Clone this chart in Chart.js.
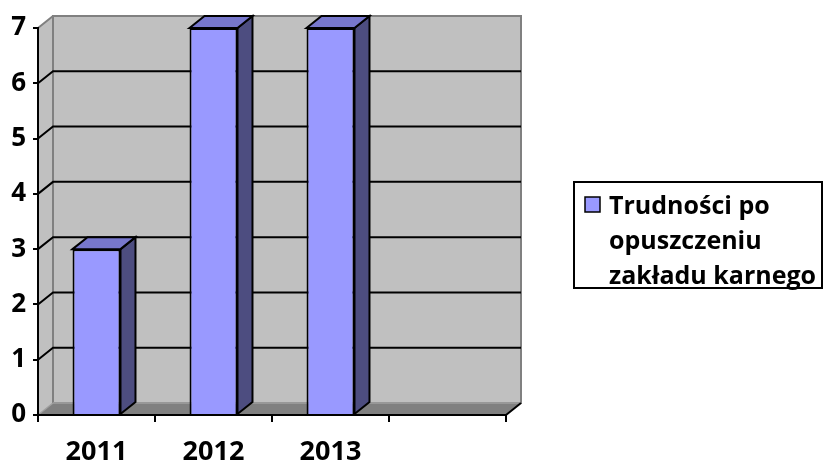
<!DOCTYPE html>
<html lang="pl">
<head>
    <meta charset="UTF-8">
    <title>Trudności po opuszczeniu zakładu karnego</title>
    <script src="https://cdn.jsdelivr.net/npm/chart.js"></script>
    <style>
        body {
            margin: 0;
            background: #fff;
        }
        #chartBox {
            width: 825px;
            height: 462px;
        }
    </style>
</head>
<body>
    <div id="chartBox">
        <canvas id="chartCanvas" width="825" height="462"></canvas>
    </div>

    <script>
        // dane wykresu
        const categories = ['2011', '2012', '2013', ''];
        const values = [3, 7, 7, null];
        const seriesLabel = ['Trudności po', 'opuszczeniu', 'zakładu karnego'];
        const yMin = 0;
        const yMax = 7;
        const yStep = 1;

        const FONT = '"Open Sans", "DejaVu Sans", sans-serif';
        const DX = 15, DY = 12; // głębokość 3D

        // ściany, podłoga i linie siatki "z tyłu"
        const wallsPlugin = {
            id: 'walls',
            beforeDraw(chart) {
                const ctx = chart.ctx;
                const { left, right, top, bottom } = chart.chartArea;
                const y = chart.scales.y;
                ctx.save();
                ctx.lineJoin = 'miter';

                // ściana boczna
                ctx.fillStyle = '#c0c0c0';
                ctx.beginPath();
                ctx.moveTo(left, top);
                ctx.lineTo(left + DX, top - DY);
                ctx.lineTo(left + DX, bottom - DY);
                ctx.lineTo(left, bottom);
                ctx.closePath();
                ctx.fill();

                // tylna ściana
                ctx.fillRect(left + DX, top - DY, right - left, bottom - top);
                ctx.strokeStyle = '#808080';
                ctx.lineWidth = 2;
                ctx.strokeRect(left + DX, top - DY, right - left, bottom - top);
                ctx.beginPath();
                ctx.moveTo(left, top);
                ctx.lineTo(left + DX, top - DY);
                ctx.stroke();

                // podłoga
                ctx.fillStyle = '#808080';
                ctx.beginPath();
                ctx.moveTo(left, bottom);
                ctx.lineTo(left + DX, bottom - DY);
                ctx.lineTo(right + DX, bottom - DY);
                ctx.lineTo(right, bottom);
                ctx.closePath();
                ctx.fill();
                ctx.strokeStyle = '#a0a0a0';
                ctx.lineWidth = 1.5;
                ctx.beginPath();
                ctx.moveTo(left + DX, bottom - DY);
                ctx.lineTo(right + DX, bottom - DY);
                ctx.stroke();
                ctx.beginPath();
                ctx.moveTo(left, bottom);
                ctx.lineTo(left + DX, bottom - DY);
                ctx.stroke();

                // linie siatki
                ctx.strokeStyle = '#000';
                ctx.lineWidth = 2;
                y.ticks.forEach(t => {
                    if (t.value <= yMin || t.value >= yMax) return;
                    const yy = y.getPixelForValue(t.value);
                    ctx.beginPath();
                    ctx.moveTo(left, yy);
                    ctx.lineTo(left + DX, yy - DY);
                    ctx.lineTo(right + DX, yy - DY);
                    ctx.stroke();
                });

                // prawa krawędź podłogi
                ctx.beginPath();
                ctx.moveTo(right, bottom);
                ctx.lineTo(right + DX, bottom - DY);
                ctx.stroke();
                ctx.restore();
            },
            afterDatasetsDraw(chart) {
                const ctx = chart.ctx;
                const meta = chart.getDatasetMeta(0);
                ctx.save();
                ctx.lineWidth = 2;
                ctx.strokeStyle = '#000';
                ctx.lineJoin = 'miter';
                meta.data.forEach((bar, i) => {
                    if (values[i] == null) return;
                    const l = bar.x - bar.width / 2;
                    const r = bar.x + bar.width / 2;
                    const t = bar.y;
                    const b = bar.base;
                    // bok
                    ctx.fillStyle = '#4d4d80';
                    ctx.beginPath();
                    ctx.moveTo(r, t);
                    ctx.lineTo(r + DX, t - DY);
                    ctx.lineTo(r + DX, b - DY);
                    ctx.lineTo(r, b);
                    ctx.closePath();
                    ctx.fill();
                    ctx.stroke();
                    // góra
                    ctx.fillStyle = '#7777cc';
                    ctx.beginPath();
                    ctx.moveTo(l, t);
                    ctx.lineTo(l + DX, t - DY);
                    ctx.lineTo(r + DX, t - DY);
                    ctx.lineTo(r, t);
                    ctx.closePath();
                    ctx.fill();
                    ctx.stroke();
                });
                ctx.restore();
            },
            afterDraw(chart) {
                // legenda
                const ctx = chart.ctx;
                const ds = chart.data.datasets[0];
                ctx.save();
                ctx.strokeStyle = '#000';
                ctx.lineWidth = 2;
                ctx.strokeRect(574, 182, 248, 106);
                ctx.fillStyle = ds.backgroundColor;
                ctx.fillRect(585, 197, 15, 15);
                ctx.lineWidth = 1.5;
                ctx.strokeRect(585, 197, 15, 15);
                ctx.fillStyle = '#000';
                ctx.font = 'bold 25px ' + FONT;
                ctx.textBaseline = 'alphabetic';
                seriesLabel.forEach((line, i) => {
                    ctx.fillText(line, 609, 214 + i * 35);
                });
                ctx.restore();
            }
        };

        new Chart(document.getElementById('chartCanvas'), {
            type: 'bar',
            data: {
                labels: categories,
                datasets: [{
                    label: seriesLabel.join(' '),
                    data: values,
                    backgroundColor: '#9999ff',
                    borderColor: '#000',
                    borderWidth: 2,
                    barPercentage: 0.41,
                    categoryPercentage: 1
                }]
            },
            options: {
                responsive: false,
                animation: false,
                layout: {
                    padding: { top: 28, right: 319, left: 0, bottom: 0 }
                },
                plugins: {
                    legend: { display: false },
                    tooltip: { enabled: false }
                },
                scales: {
                    x: {
                        grid: {
                            offset: true,
                            drawOnChartArea: false,
                            drawTicks: true,
                            tickLength: 7,
                            color: '#000',
                            lineWidth: 2
                        },
                        border: { display: true, color: '#000', width: 2 },
                        ticks: {
                            color: '#000',
                            font: { family: FONT, size: 27, weight: 'bold' },
                            padding: 14,
                            maxRotation: 0
                        },
                        afterFit(scale) { scale.height = 47; }
                    },
                    y: {
                        min: yMin,
                        max: yMax,
                        ticks: {
                            stepSize: yStep,
                            color: '#000',
                            font: { family: FONT, size: 26, weight: 'bold' },
                            padding: 7
                        },
                        grid: {
                            drawOnChartArea: false,
                            drawTicks: true,
                            tickLength: 5,
                            color: '#000',
                            lineWidth: 2
                        },
                        border: { display: true, color: '#000', width: 2 },
                        afterFit(scale) { scale.width = 38; }
                    }
                }
            },
            plugins: [wallsPlugin]
        });
    </script>
</body>
</html>
